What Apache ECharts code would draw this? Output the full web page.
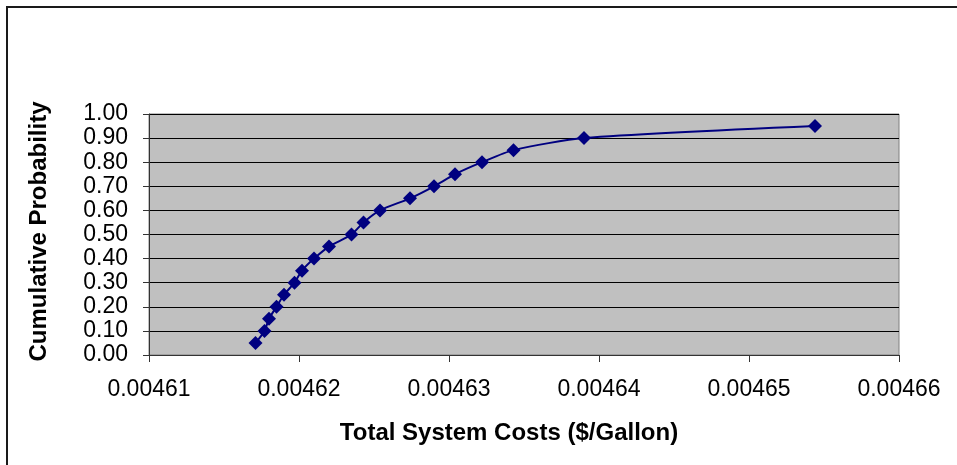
<!DOCTYPE html>
<html>
<head>
<meta charset="utf-8">
<script src="https://cdn.jsdelivr.net/npm/echarts@6/dist/echarts.min.js"></script>
<style>
html,body{margin:0;padding:0;background:#fff;}
#chart{width:957px;height:465px;}
</style>
</head>
<body>
<div id="chart"></div>
<script>
var costs = [0.0046171, 0.0046177, 0.0046180, 0.0046185, 0.0046190, 0.0046197, 0.0046202,
             0.0046210, 0.0046220, 0.0046235, 0.0046243, 0.0046254, 0.0046274, 0.0046290,
             0.0046304, 0.0046322, 0.0046343, 0.0046390, 0.0046544];
var probs = [0.05, 0.10, 0.15, 0.20, 0.25, 0.30, 0.35, 0.40, 0.45, 0.50, 0.55, 0.60, 0.65,
             0.70, 0.75, 0.80, 0.85, 0.90, 0.95];
var xTitle = 'Total System Costs ($/Gallon)';
var yTitle = 'Cumulative Probability';

var data = costs.map(function (c, i) { return [c, probs[i]]; });
var chart = echarts.init(document.getElementById('chart'));
var font = '"Liberation Sans", Arial, sans-serif';
chart.setOption({
  animation: false,
  graphic: [{
    type: 'rect', silent: true,
    shape: { x: 7, y: 7, width: 1000, height: 1000 },
    style: { fill: 'none', stroke: '#1a1a1a', lineWidth: 2 }
  }],
  grid: {
    left: 149, right: 58, top: 114, bottom: 110,
    show: true, backgroundColor: '#C0C0C0', borderColor: '#808080', borderWidth: 1
  },
  xAxis: {
    type: 'value', min: 0.00461, max: 0.00466, interval: 0.00001,
    name: xTitle, nameLocation: 'middle', nameGap: 66,
    nameTextStyle: { fontFamily: font, fontSize: 24, fontWeight: 'bold', color: '#000',
      padding: [0, 30, 0, 0] },
    axisLine: { show: true, lineStyle: { color: '#333', width: 1 } },
    axisTick: { show: true, length: 7, lineStyle: { color: '#333' } },
    axisLabel: { fontFamily: font, fontSize: 23, color: '#000', margin: 23,
      formatter: function (v) { return v.toFixed(5); } },
    splitLine: { show: false }
  },
  yAxis: {
    type: 'value', min: 0, max: 1, interval: 0.1,
    name: yTitle, nameLocation: 'middle', nameGap: 98,
    nameTextStyle: { fontFamily: font, fontSize: 24, fontWeight: 'bold', color: '#000',
      padding: [0, 0, 0, 6] },
    axisLine: { show: true, lineStyle: { color: '#333', width: 1 } },
    axisTick: { show: true, length: 6, lineStyle: { color: '#333' } },
    axisLabel: { fontFamily: font, fontSize: 23, color: '#000', margin: 21,
      formatter: function (v) { return v.toFixed(2); } },
    splitLine: { show: true, lineStyle: { color: '#000', width: 1 } }
  },
  series: [{
    type: 'line', data: data, smooth: 0.25,
    symbol: 'diamond', symbolSize: 14,
    lineStyle: { color: '#000080', width: 2 },
    itemStyle: { color: '#000080' }
  }]
});
</script>
</body>
</html>
